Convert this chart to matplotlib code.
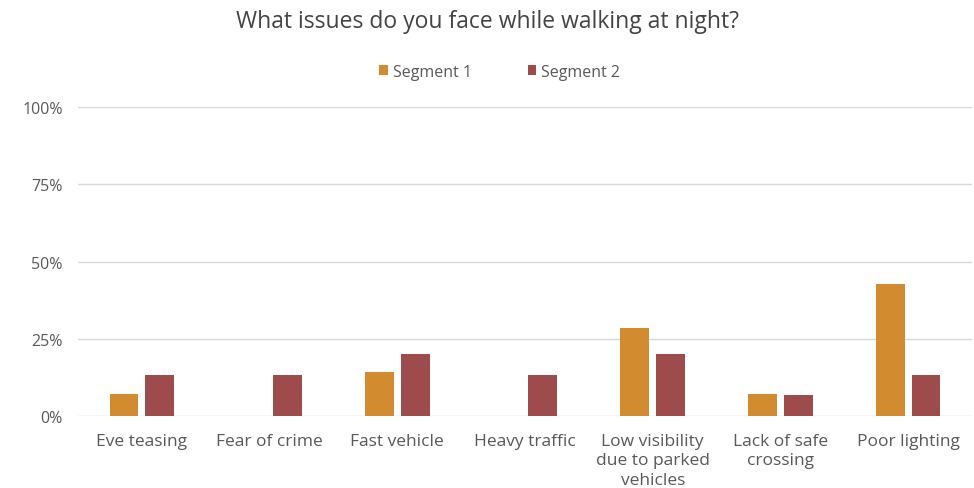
import numpy as np
import matplotlib.pyplot as plt
from matplotlib.ticker import PercentFormatter

# data
categories = ["Eve teasing", "Fear of crime", "Fast vehicle", "Heavy traffic",
              "Low visibility\ndue to parked\nvehicles", "Lack of safe\ncrossing", "Poor lighting"]
segment1 = [7.1, 0.0, 14.3, 0.0, 28.6, 7.1, 42.9]
segment2 = [13.3, 13.3, 20.0, 13.3, 20.0, 6.7, 13.3]

c1 = "#D28B2E"
c2 = "#9E4B4B"

plt.rcParams['font.family'] = ['Open Sans', 'DejaVu Sans']

fig = plt.figure(figsize=(9.74, 4.89), dpi=100)
ax = fig.add_axes([0.080, 0.147, 0.918, 0.632])

x = np.arange(len(categories))
w = 0.225
off = 0.14
ax.bar(x - off, segment1, w, color=c1, label="Segment 1", zorder=3)
ax.bar(x + off, segment2, w, color=c2, label="Segment 2", zorder=3)

ax.set_xlim(-0.5, len(categories) - 0.5)
ax.set_ylim(0, 100)
ax.set_yticks([0, 25, 50, 75, 100])
ax.yaxis.set_major_formatter(PercentFormatter(decimals=0))
ax.grid(axis='y', color='#d9d9d9', linewidth=1, zorder=0)
for s in ax.spines.values():
    s.set_visible(False)
ax.tick_params(axis='both', length=0)
ax.tick_params(axis='y', labelsize=11.5, labelcolor='#595959', pad=11)
ax.set_xticks(x)
ax.set_xticklabels(categories, fontsize=12.5, color='#595959', linespacing=1.3)
ax.tick_params(axis='x', pad=12)

fig.text(0.5, 0.955, "What issues do you face while walking at night?",
         ha='center', va='center', fontsize=16.5, color='#444444')
fig.legend(loc='center', bbox_to_anchor=(0.513, 0.851), ncol=2, frameon=False,
           fontsize=11.5, labelcolor='#595959', handlelength=0.55, handleheight=0.55,
           handletextpad=0.3, columnspacing=3.5)

fig.savefig("out.png", dpi=100)
